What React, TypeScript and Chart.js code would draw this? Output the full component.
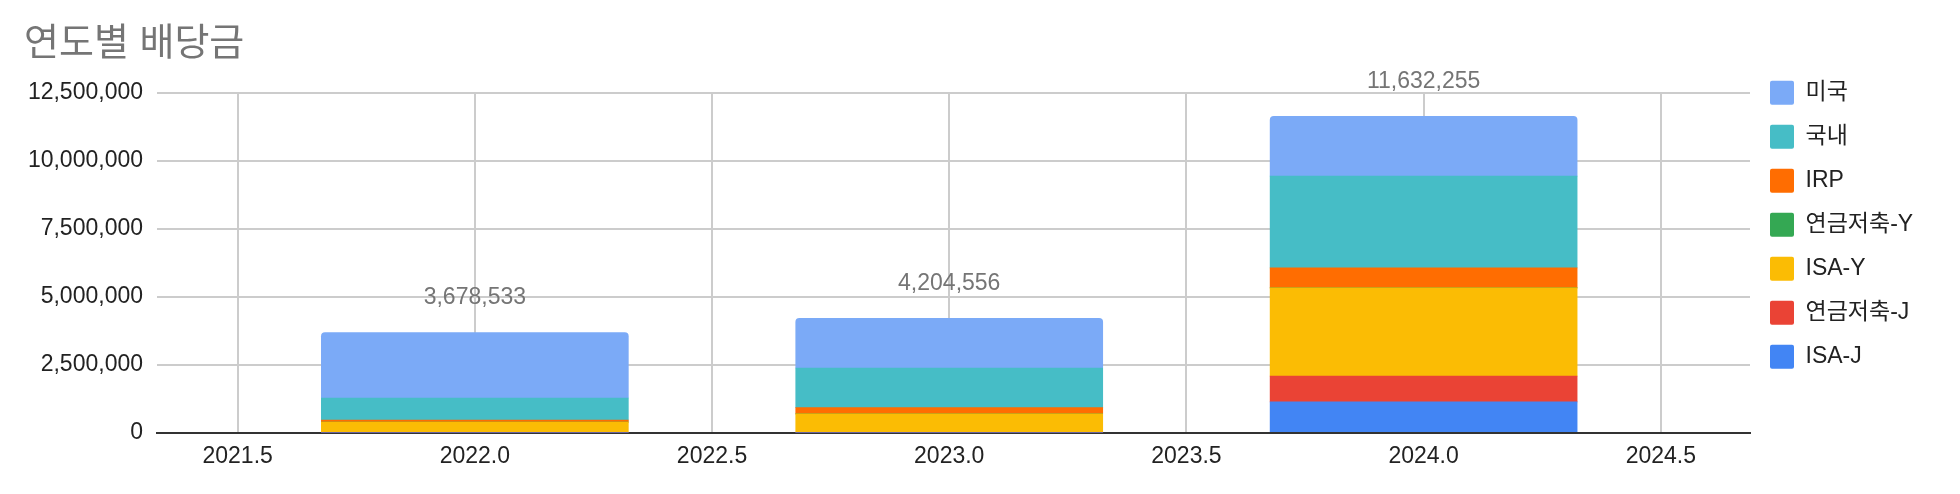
import React, { useEffect, useRef } from "react";
import { Chart, registerables } from "chart.js";

Chart.register(...registerables);

const FONT = '"Liberation Sans", Arial, "Noto Sans CJK KR", sans-serif';

const chartTitle = "연도별 배당금";
const years = [2022, 2023, 2024];
const xTickValues = [2021.5, 2022.0, 2022.5, 2023.0, 2023.5, 2024.0, 2024.5];
const yTickValues = [0, 2500000, 5000000, 7500000, 10000000, 12500000];

// stacked bottom -> top
const isaJ = [0, 0, 1136000];
const pensionJ = [0, 0, 945000];
const isaY = [390000, 690000, 3246000];
const pensionY = [0, 0, 0];
const irp = [75000, 230000, 735000];
const domestic = [810000, 1460000, 3371000];
const usa = [2403533, 1824556, 2199255];

const seriesNames = ["ISA-J", "연금저축-J", "ISA-Y", "연금저축-Y", "IRP", "국내", "미국"];
const seriesValues = [isaJ, pensionJ, isaY, pensionY, irp, domestic, usa];
const seriesColors = ["#4285F4", "#EA4335", "#FBBC04", "#34A853", "#FF6D01", "#46BDC6", "#7BAAF7"];

const totalsPlugin = {
  id: "totals",
  afterDatasetsDraw(chart: any) {
    const { ctx, scales } = chart;
    const xs = scales.x;
    const ys = scales.y;
    ctx.save();
    ctx.font = `23px ${FONT}`;
    ctx.textAlign = "center";
    ctx.textBaseline = "alphabetic";
    ctx.fillStyle = "#757575";
    years.forEach((yr, i) => {
      const total = seriesValues.reduce((s, arr) => s + arr[i], 0);
      const txt = total.toLocaleString("en-US");
      const px = xs.getPixelForValue(yr);
      const py = ys.getPixelForValue(total) - 28.2;
      ctx.fillText(txt, px, py);
    });
    ctx.restore();
  },
};

export default function App() {
  const canvasRef = useRef<HTMLCanvasElement | null>(null);

  useEffect(() => {
    document.body.style.margin = "0";
    const canvas = canvasRef.current;
    if (!canvas) return;
    Chart.defaults.font.family = FONT;

    const datasets = seriesNames.map((name, si) => ({
      label: name,
      data: years.map((yr, i) => ({ x: yr, y: seriesValues[si][i] })),
      backgroundColor: seriesColors[si],
      borderColor: seriesColors[si],
      borderWidth: 0,
      barThickness: 307,
      borderRadius: name === "미국" ? { topLeft: 4, topRight: 4, bottomLeft: 0, bottomRight: 0 } : 0,
    }));

    const chart = new Chart(canvas, {
      type: "bar",
      data: { datasets },
      plugins: [totalsPlugin],
      options: {
        animation: false,
        responsive: false,
        layout: { padding: { top: 0, left: 24, bottom: 0, right: 0 } },
        plugins: {
          tooltip: { enabled: false },
          title: {
            display: true,
            text: chartTitle,
            align: "start",
            color: "#757575",
            font: { size: 38, weight: "normal", family: FONT },
            padding: { top: 22, bottom: 25.1 },
          },
          legend: {
            display: true,
            position: "right",
            align: "start",
            reverse: true,
            title: {
              display: true,
              text: " ",
              font: { size: 10, lineHeight: 1 },
              padding: { top: 50.7, bottom: 0 },
            },
            labels: {
              boxWidth: 24,
              boxHeight: 24,
              padding: 20,
              color: "#222222",
              useBorderRadius: true,
              borderRadius: 2,
              font: { size: 23, family: FONT },
            },
          },
        },
        scales: {
          x: {
            type: "linear",
            min: 2021.33,
            max: 2024.688,
            stacked: true,
            offset: false,
            afterBuildTicks: (scale: any) => {
              scale.ticks = xTickValues.map((v) => ({ value: v }));
            },
            afterFit: (scale: any) => {
              scale.height = 61.3;
            },
            ticks: {
              padding: 10,
              color: "#222222",
              font: { size: 23 },
              maxRotation: 0,
              autoSkip: false,
              callback: (v: any) => Number(v).toFixed(1),
            },
            grid: {
              offset: false,
              color: "#cccccc",
              lineWidth: 2,
              drawTicks: false,
            },
            border: { display: true, color: "#333333", width: 2 },
          },
          y: {
            type: "linear",
            min: 0,
            max: 12500000,
            stacked: true,
            afterBuildTicks: (scale: any) => {
              scale.ticks = yTickValues.map((v) => ({ value: v }));
            },
            afterFit: (scale: any) => {
              scale.width = 133;
            },
            ticks: {
              padding: 14,
              color: "#222222",
              font: { size: 23 },
              callback: (v: any) => Number(v).toLocaleString("en-US"),
            },
            grid: {
              color: (ctx: any) => (ctx.tick && ctx.tick.value === 0 ? "#333333" : "#cccccc"),
              lineWidth: 2,
              drawTicks: false,
            },
            border: { display: false },
          },
        },
      } as any,
    });

    const lw = chart.legend ? chart.legend.width : 0;
    (chart.options as any).layout.padding = { top: 0, left: 24, bottom: 0, right: Math.max(0, 210 - lw) };
    chart.update();

    return () => {
      chart.destroy();
    };
  }, []);

  return (
    <div style={{ width: 1960, height: 494 }}>
      <canvas ref={canvasRef} width={1960} height={494} style={{ display: "block" }} />
    </div>
  );
}
